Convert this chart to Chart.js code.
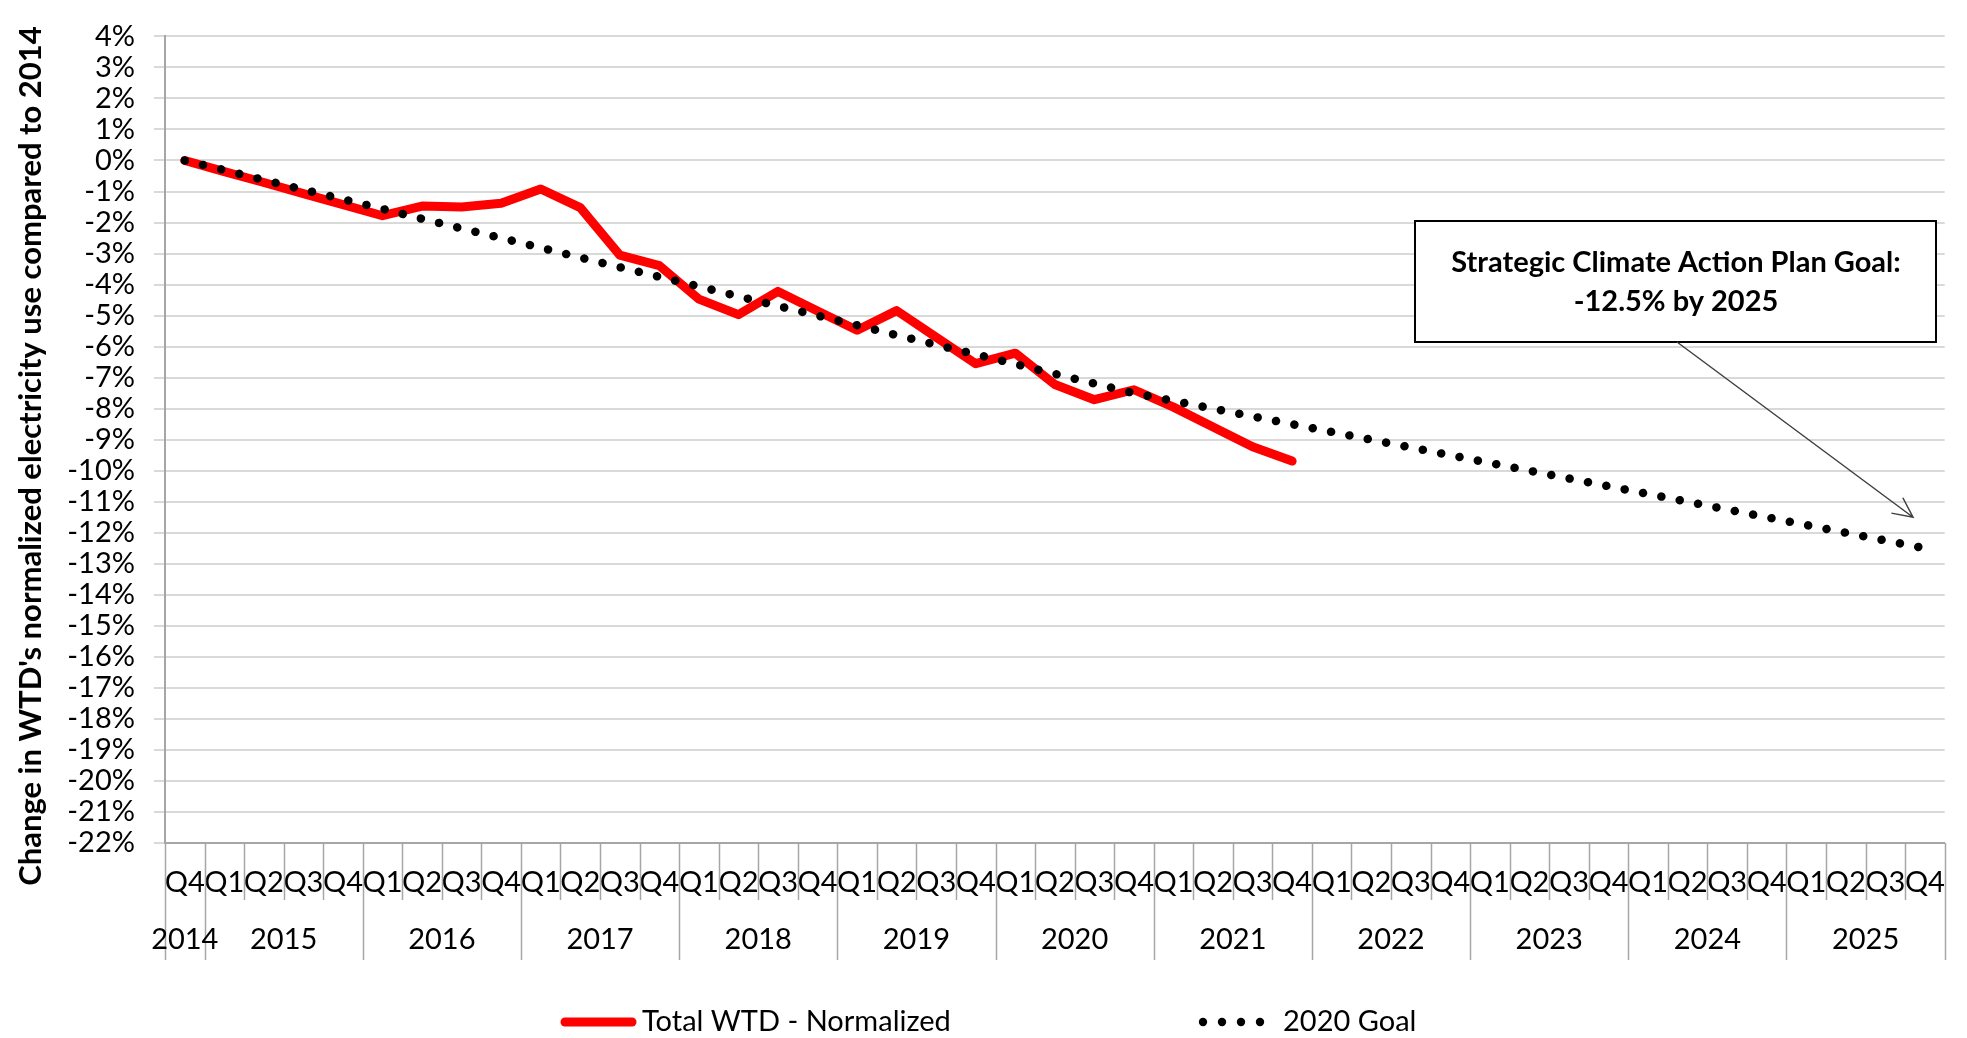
<!DOCTYPE html>
<html>
<head>
<meta charset="utf-8">
<script src="https://cdn.jsdelivr.net/npm/chart.js@4.4.1/dist/chart.umd.min.js"></script>
<style>
  html, body { margin: 0; padding: 0; background: #fff; }
  #wrap { width: 1967px; height: 1038px; }
</style>
</head>
<body>
<div id="wrap"><canvas id="savingsChart" width="1967" height="1038"></canvas></div>
<script>
// quarter labels, one per category (Q4 2014 .. Q4 2025)
var quarterLabels = ['Q4',
  'Q1', 'Q2', 'Q3', 'Q4', 'Q1', 'Q2', 'Q3', 'Q4', 'Q1', 'Q2', 'Q3', 'Q4',
  'Q1', 'Q2', 'Q3', 'Q4', 'Q1', 'Q2', 'Q3', 'Q4', 'Q1', 'Q2', 'Q3', 'Q4',
  'Q1', 'Q2', 'Q3', 'Q4', 'Q1', 'Q2', 'Q3', 'Q4', 'Q1', 'Q2', 'Q3', 'Q4',
  'Q1', 'Q2', 'Q3', 'Q4', 'Q1', 'Q2', 'Q3', 'Q4']
var yearLabels = ['2014', '2015', '2016', '2017', '2018', '2019', '2020', '2021', '2022', '2023', '2024', '2025']
var quartersPerYear = [1, 4, 4, 4, 4, 4, 4, 4, 4, 4, 4, 4]

// % change vs 2014
var totalWtdNormalized = [0,
  -0.36, -0.71, -1.07, -1.42,
  -1.78, -1.47, -1.50, -1.38,
  -0.92, -1.52, -3.05, -3.39,
  -4.47, -4.97, -4.22, -4.85,
  -5.47, -4.84, -5.70, -6.55,
  -6.21, -7.22, -7.71, -7.39,
  -7.95, -8.59, -9.23, -9.69,
  null, null, null, null, null, null, null, null,
  null, null, null, null, null, null, null, null]
var goal2020 = [0,
  -0.31, -0.63, -0.94, -1.25,
  -1.56, -1.88, -2.19, -2.50,
  -2.81, -3.13, -3.44, -3.75,
  -4.06, -4.38, -4.69, -5.00,
  -5.31, -5.63, -5.94, -6.25,
  -6.56, -6.88, -7.19, -7.50,
  -7.75, -8.00, -8.25, -8.50,
  -8.75, -9.00, -9.25, -9.50,
  -9.75, -10.00, -10.25, -10.50,
  -10.75, -11.00, -11.25, -11.50,
  -11.75, -12.00, -12.25, -12.50]

var yMin = -22
var yMax = 4
var yTitle = "Change in WTD's normalized electricity use compared to 2014"
var noteLines = ['Strategic Climate Action Plan Goal:', '-12.5% by 2025']
var seriesNames = ['Total WTD - Normalized', '2020 Goal']

Chart.defaults.font.family = 'Lato, "Open Sans", sans-serif'
Chart.defaults.color = '#000'

// year row, separators, y title, legend and the callout
var decorPlugin = {
  id: 'decor',
  afterDraw: function(chart) {
    var ctx = chart.ctx
    var x = chart.scales.x
    var y = chart.scales.y
    var area = chart.chartArea
    ctx.save()

    // category separators below the axis
    var yearStart = {}
    var n = 0
    quartersPerYear.forEach(function(q) { yearStart[n] = true; n += q })
    ctx.strokeStyle = '#a6a6a6'
    ctx.lineWidth = 1.5
    for (var i = 0; i <= quarterLabels.length; i++) {
      var px = Math.round(x.getPixelForValue(i - 0.5)) + 0.5
      var longLine = yearStart[i] || i === quarterLabels.length
      ctx.beginPath()
      ctx.moveTo(px, area.bottom)
      ctx.lineTo(px, longLine ? 960 : 900)
      ctx.stroke()
    }

    // year labels
    ctx.fillStyle = '#000'
    ctx.font = '29px Lato'
    ctx.textAlign = 'center'
    ctx.textBaseline = 'middle'
    var first = 0
    yearLabels.forEach(function(label, k) {
      var last = first + quartersPerYear[k] - 1
      var cx = (x.getPixelForValue(first) + x.getPixelForValue(last)) / 2
      ctx.fillText(label, cx, 940)
      first = last + 1
    })

    // y axis title
    ctx.save()
    ctx.translate(31, 456)
    ctx.rotate(-Math.PI / 2)
    ctx.font = 'bold 31px Lato'
    ctx.fillText(yTitle, 0, 0)
    ctx.restore()

    // legend
    var ly = 1022
    ctx.strokeStyle = '#ff0000'
    ctx.lineWidth = 9
    ctx.lineCap = 'round'
    ctx.beginPath()
    ctx.moveTo(565, ly)
    ctx.lineTo(632, ly)
    ctx.stroke()
    ctx.textAlign = 'left'
    ctx.font = '29px Lato'
    ctx.fillText(seriesNames[0], 642, ly)
    ctx.fillStyle = '#000'
    for (var d = 0; d < 4; d++) {
      ctx.beginPath()
      ctx.arc(1203 + d * 19, ly, 4.2, 0, Math.PI * 2)
      ctx.fill()
    }
    ctx.fillText(seriesNames[1], 1283, ly)

    // callout box
    ctx.lineCap = 'butt'
    ctx.fillStyle = '#fff'
    ctx.fillRect(1415, 221, 521, 121)
    ctx.strokeStyle = '#000'
    ctx.lineWidth = 2
    ctx.strokeRect(1415, 221, 521, 121)
    ctx.fillStyle = '#000'
    ctx.textAlign = 'center'
    ctx.font = 'bold 29px Lato'
    ctx.fillText(noteLines[0], 1676, 263)
    ctx.fillText(noteLines[1], 1676, 302)

    // arrow from box to the end of the goal line
    var ax = 1677, ay = 342
    var tx = x.getPixelForValue(43.7)
    var ty = y.getPixelForValue(-11.5)
    var ang = Math.atan2(ty - ay, tx - ax)
    ctx.strokeStyle = '#404040'
    ctx.lineWidth = 1.5
    ctx.beginPath()
    ctx.moveTo(ax, ay)
    ctx.lineTo(tx, ty)
    ctx.moveTo(tx - 22 * Math.cos(ang - 0.45), ty - 22 * Math.sin(ang - 0.45))
    ctx.lineTo(tx, ty)
    ctx.lineTo(tx - 22 * Math.cos(ang + 0.45), ty - 22 * Math.sin(ang + 0.45))
    ctx.stroke()

    ctx.restore()
  }
}

var context = document.getElementById('savingsChart').getContext('2d')
var savingsChart = new Chart(context, {
  type: 'line',
  data: {
    labels: quarterLabels,
    datasets: [{
      label: seriesNames[1],
      data: goal2020,
      borderColor: '#000',
      borderWidth: 8.5,
      borderDash: [0.1, 18.6],
      borderCapStyle: 'round',
      fill: false,
      tension: 0,
      pointRadius: 0,
      order: 0
    }, {
      label: seriesNames[0],
      data: totalWtdNormalized,
      borderColor: '#ff0000',
      borderWidth: 9,
      borderCapStyle: 'round',
      borderJoinStyle: 'round',
      fill: false,
      tension: 0,
      pointRadius: 0,
      order: 1
    }]
  },
  options: {
    responsive: false,
    animation: false,
    devicePixelRatio: 1,
    layout: { padding: { top: 20, right: 7, left: 0, bottom: 0 } },
    plugins: {
      legend: { display: false },
      tooltip: { enabled: false }
    },
    scales: {
      x: {
        offset: true,
        grid: { display: false, drawTicks: false },
        border: { display: true, color: '#a6a6a6', width: 2 },
        ticks: {
          autoSkip: false,
          maxRotation: 0,
          minRotation: 0,
          padding: 22,
          font: { size: 29 }
        },
        afterFit: function(scale) { scale.height = 195 }
      },
      y: {
        min: yMin,
        max: yMax,
        grid: { color: '#d9d9d9', lineWidth: 2, tickLength: 11 },
        border: { color: '#a6a6a6', width: 2 },
        ticks: {
          stepSize: 1,
          autoSkip: false,
          padding: 19,
          font: { size: 29 },
          callback: function(v) { return v + '%' }
        },
        afterFit: function(scale) { scale.width = 165 }
      }
    }
  },
  plugins: [decorPlugin]
})
</script>
</body>
</html>
